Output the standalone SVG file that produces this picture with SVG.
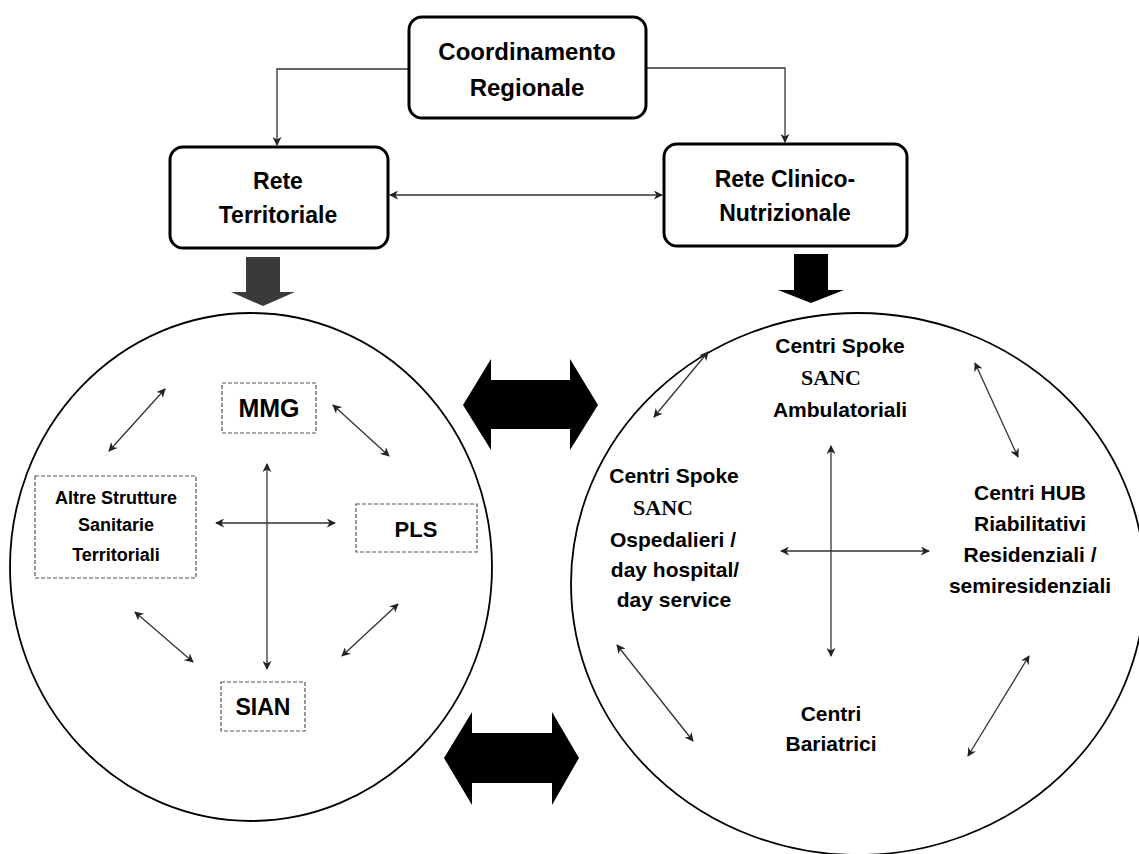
<svg xmlns="http://www.w3.org/2000/svg" width="1139" height="854" viewBox="0 0 1139 854">
<defs>
<style>
.box{fill:#fff;stroke:#000;stroke-width:3}
.dbox{fill:#fff;stroke:#555;stroke-width:1.2;stroke-dasharray:4 2}
.ring{fill:#fff;stroke:#000;stroke-width:1.8}
.t{font-family:"Liberation Sans",Arial,sans-serif;font-weight:bold;fill:#000;text-anchor:middle}
.s{font-family:"Liberation Serif","Times New Roman",serif;font-weight:bold;fill:#000;text-anchor:middle}
.c{fill:none;stroke:#333;stroke-width:1.3}
.blk{fill:#000;stroke:none}
</style>
<marker id="ah" viewBox="0 0 10 10" refX="9" refY="5" markerWidth="9" markerHeight="9" markerUnits="userSpaceOnUse" orient="auto-start-reverse">
<path d="M0,0 L10,5 L0,10 L3,5 Z" fill="#222"/>
</marker>
</defs>

<g id="connectors">
<polyline class="c" points="409,69 277,69 277,145" marker-end="url(#ah)"/>
<polyline class="c" points="646,68 785,68 785,142" marker-end="url(#ah)"/>
<line class="c" x1="390" y1="195" x2="662" y2="195" marker-start="url(#ah)" marker-end="url(#ah)"/>
<polygon points="246,257 280,257 280,292 295,292 263,306 231,292 246,292" fill="#3a3a3a"/>
<polygon class="blk" points="794,254 828,254 828,290 844,290 811,303 778,290 794,290"/>
<polygon class="blk" points="463,405 491,359 491,380 570,380 570,359 598,405 570,450 570,429 491,429 491,450"/>
<polygon class="blk" points="444,758 472,712 472,733 552,733 552,712 579,758 552,805 552,783 472,783 472,805"/>
</g>

<g id="coordinamento">
<rect class="box" x="409" y="17" width="237" height="101" rx="13"/>
<text class="t" x="527" y="60" font-size="24">Coordinamento</text>
<text class="t" x="527" y="96" font-size="24">Regionale</text>
</g>
<g id="rete-territoriale">
<rect class="box" x="170" y="147" width="218" height="101" rx="13"/>
<text class="t" x="278" y="189" font-size="23">Rete</text>
<text class="t" x="278" y="223" font-size="23">Territoriale</text>
</g>
<g id="rete-clinico">
<rect class="box" x="664" y="144" width="243" height="102" rx="13"/>
<text class="t" x="785" y="187" font-size="23">Rete Clinico-</text>
<text class="t" x="785" y="221" font-size="23">Nutrizionale</text>
</g>

<g id="cerchio-territoriale">
<ellipse class="ring" cx="251" cy="567" rx="241" ry="254"/>
</g>
<g id="cerchio-clinico">
<ellipse class="ring" cx="858" cy="584" rx="287" ry="271"/>
</g>

<g id="mmg">
<rect class="dbox" x="222" y="383" width="94" height="50"/>
<text class="t" x="269" y="417" font-size="25">MMG</text>
</g>
<g id="altre-strutture">
<rect class="dbox" x="35" y="476" width="161" height="102"/>
<text class="t" x="116" y="504" font-size="18">Altre Strutture</text>
<text class="t" x="116" y="531" font-size="18">Sanitarie</text>
<text class="t" x="116" y="561" font-size="18">Territoriali</text>
</g>
<g id="pls">
<rect class="dbox" x="356" y="504" width="121" height="48"/>
<text class="t" x="416" y="537" font-size="22">PLS</text>
</g>
<g id="sian">
<rect class="dbox" x="221" y="682" width="84" height="49"/>
<text class="t" x="263" y="715" font-size="23">SIAN</text>
</g>

<g id="connectors-territoriale">
<line class="c" x1="267" y1="464" x2="267" y2="669" marker-start="url(#ah)" marker-end="url(#ah)"/>
<line class="c" x1="216" y1="523" x2="335" y2="523" marker-start="url(#ah)" marker-end="url(#ah)"/>
<line class="c" x1="109" y1="451" x2="165" y2="389" marker-start="url(#ah)" marker-end="url(#ah)"/>
<line class="c" x1="333" y1="405" x2="389" y2="456" marker-start="url(#ah)" marker-end="url(#ah)"/>
<line class="c" x1="135" y1="612" x2="193" y2="662" marker-start="url(#ah)" marker-end="url(#ah)"/>
<line class="c" x1="342" y1="656" x2="398" y2="604" marker-start="url(#ah)" marker-end="url(#ah)"/>
</g>

<g id="spoke-ambulatoriali">
<text class="t" x="840" y="353" font-size="21">Centri Spoke</text>
<text class="s" x="831" y="385" font-size="22">SANC</text>
<text class="t" x="840" y="417" font-size="21">Ambulatoriali</text>
</g>
<g id="spoke-ospedalieri">
<text class="t" x="674" y="483" font-size="21">Centri Spoke</text>
<text class="s" x="663" y="515" font-size="22">SANC</text>
<text class="t" x="673" y="547" font-size="21">Ospedalieri /</text>
<text class="t" x="675" y="577" font-size="21">day hospital/</text>
<text class="t" x="674" y="607" font-size="21">day service</text>
</g>
<g id="hub">
<text class="t" x="1030" y="500" font-size="21">Centri HUB</text>
<text class="t" x="1030" y="531" font-size="21">Riabilitativi</text>
<text class="t" x="1030" y="562" font-size="21">Residenziali /</text>
<text class="t" x="1030" y="593" font-size="21">semiresidenziali</text>
</g>
<g id="bariatrici">
<text class="t" x="831" y="721" font-size="21">Centri</text>
<text class="t" x="831" y="751" font-size="21">Bariatrici</text>
</g>

<g id="connectors-clinico">
<line class="c" x1="831" y1="446" x2="831" y2="656" marker-start="url(#ah)" marker-end="url(#ah)"/>
<line class="c" x1="781" y1="551" x2="929" y2="551" marker-start="url(#ah)" marker-end="url(#ah)"/>
<line class="c" x1="654" y1="417" x2="708" y2="352" marker-start="url(#ah)" marker-end="url(#ah)"/>
<line class="c" x1="975" y1="363" x2="1018" y2="457" marker-start="url(#ah)" marker-end="url(#ah)"/>
<line class="c" x1="617" y1="645" x2="693" y2="741" marker-start="url(#ah)" marker-end="url(#ah)"/>
<line class="c" x1="968" y1="756" x2="1029" y2="656" marker-start="url(#ah)" marker-end="url(#ah)"/>
</g>
</svg>
